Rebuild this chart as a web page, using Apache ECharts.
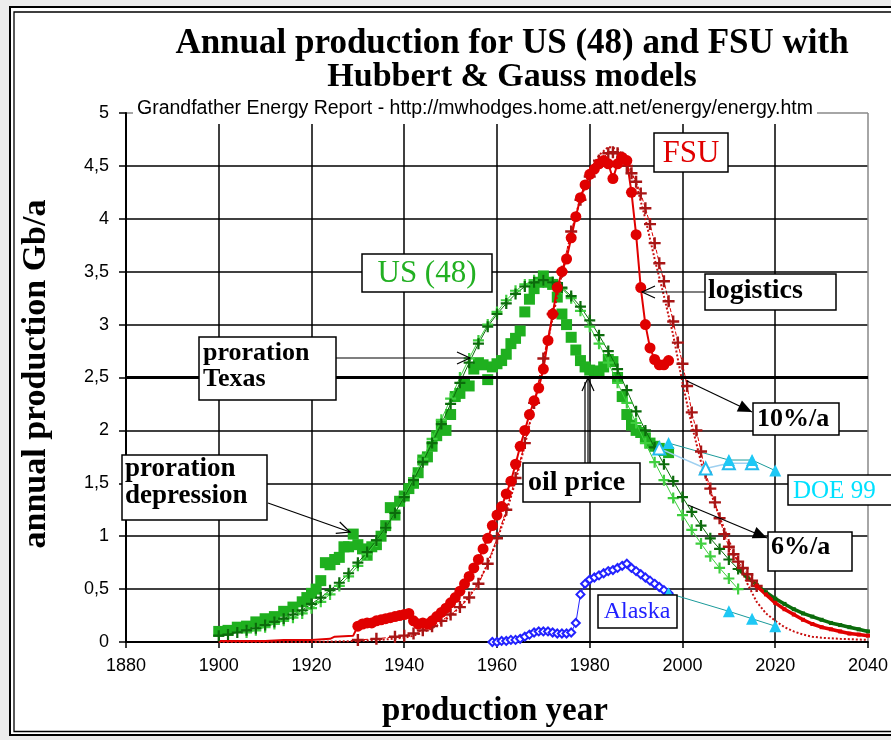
<!DOCTYPE html>
<html><head><meta charset="utf-8">
<script src="https://cdn.jsdelivr.net/npm/echarts@6/dist/echarts.min.js"></script>
<style>html,body{margin:0;padding:0;background:#ececec;}#c{width:891px;height:740px;}</style>
</head><body><div id="c"></div>
<script>
// ---------- data ----------
const yTickLabels = ['0','0,5','1','1,5','2','2,5','3','3,5','4','4,5','5'];
const xTickLabels = ['1880','1900','1920','1940','1960','1980','2000','2020','2040'];

const usYears = [1900,1902,1904,1906,1908,1910,1912,1914,1916,1918,
  1919,1920,1921,1922,1923,1924,1925,1926,1927,1928,1929,1930,1931,1932,1933,1934,1935,1936,1937,1938,1939,
  1940,1941,1942,1943,1944,1945,1946,1947,1948,1949,1950,1951,1952,1953,1954,1955,1956,1957,1958,1959,
  1960,1961,1962,1963,1964,1965,1966,1967,1968,1969,1970,1971,1972,1973,1974,1975,1976,1977,1978,1979,
  1980,1981,1982,1983,1984,1985,1986,1987,1988,1989,1990,1991,1992,1993,1994,1995,1996,1997];
const usProd = [0.10,0.11,0.14,0.15,0.19,0.22,0.24,0.29,0.33,0.38,
  0.42,0.46,0.50,0.58,0.75,0.73,0.78,0.80,0.90,0.90,1.02,0.92,0.88,0.82,0.90,0.92,1.00,1.10,1.27,1.20,1.33,
  1.38,1.45,1.50,1.60,1.72,1.75,1.85,1.95,2.05,2.00,2.15,2.32,2.35,2.45,2.42,2.58,2.64,2.62,2.48,2.60,
  2.63,2.66,2.72,2.82,2.87,2.94,3.12,3.24,3.34,3.40,3.46,3.40,3.38,3.26,3.10,3.00,2.88,2.76,2.66,2.60,
  2.57,2.56,2.56,2.60,2.67,2.65,2.50,2.32,2.15,2.05,2.00,1.98,1.93,1.88,1.85,1.83,1.81,1.79];

const usHubYears = [1900,1902,1904,1906,1908,1910,1912,1914,1916,1918,1920,1922,1924,1926,1928,1930,1932,1934,1936,1938,
  1940,1942,1944,1946,1948,1950,1952,1954,1956,1958,1960,1962,1964,1966,1968,1970,1972,1974,1976,1978,
  1980,1982,1984,1986,1988,1990,1992,1994,1996,1998,2000,2002,2004,2006,2008,2010,2012,2014,2016,2018,
  2020,2022,2024,2026,2028,2030,2032,2034,2036,2038,2040];
const usHubVals = [0.06,0.07,0.09,0.11,0.13,0.16,0.19,0.22,0.26,0.30,0.36,0.42,0.49,0.56,0.65,0.75,0.85,0.96,1.08,1.22,
  1.37,1.53,1.70,1.88,2.06,2.25,2.45,2.64,2.82,2.98,3.10,3.20,3.29,3.36,3.40,3.42,3.40,3.35,3.27,3.17,
  3.04,2.90,2.75,2.58,2.38,2.18,2.00,1.84,1.68,1.52,1.37,1.23,1.10,0.98,0.88,0.78,0.69,0.61,0.54,0.47,
  0.41,0.36,0.31,0.27,0.24,0.21,0.18,0.16,0.14,0.12,0.10];

const usGaussYears = [1906,1908,1910,1912,1914,1916,1918,1920,1922,1924,1926,1928,1930,1932,1934,1936,1938,
  1940,1942,1944,1946,1948,1950,1952,1954,1956,1958,1960,1962,1964,1966,1968,1970,1972,1974,1976,1978,
  1980,1982,1984,1986,1988,1990,1992,1994,1996,1998,2000,2002,2004,2006,2008,2010,2012];
const usGaussVals = [0.09,0.11,0.14,0.17,0.20,0.23,0.27,0.32,0.38,0.45,0.53,0.62,0.72,0.83,0.95,1.08,1.22,
  1.38,1.55,1.73,1.92,2.10,2.30,2.50,2.68,2.85,3.00,3.12,3.23,3.32,3.38,3.42,3.42,3.40,3.34,3.25,3.13,
  2.98,2.82,2.64,2.45,2.26,2.07,1.88,1.70,1.53,1.36,1.20,1.06,0.93,0.81,0.70,0.60,0.50];

const fsuYears = [1900,1905,1910,1914,1920,1924,1925,1929,
  1930,1931,1932,1933,1934,1935,1936,1937,1938,1939,1940,1941,1942,1943,1944,1945,1946,1947,1948,1949,
  1950,1951,1952,1953,1954,1955,1956,1957,1958,1959,1960,1961,1962,1963,1964,1965,1966,1967,1968,1969,
  1970,1971,1972,1973,1974,1975,1976,1977,1978,1979,1980,1981,1982,1983,1984,1985,1986,1987,1988,1989,
  1990,1991,1992,1993,1994,1995,1996,1997];
const fsuProd = [0.01,0.01,0.01,0.02,0.02,0.03,0.05,0.06,
  0.15,0.17,0.18,0.18,0.20,0.21,0.22,0.23,0.24,0.25,0.26,0.27,0.20,0.17,0.18,0.17,0.20,0.24,0.28,0.32,
  0.37,0.42,0.48,0.55,0.62,0.70,0.78,0.88,0.98,1.10,1.20,1.28,1.40,1.52,1.68,1.85,2.00,2.15,2.28,2.40,
  2.58,2.85,3.10,3.35,3.50,3.62,3.82,4.02,4.20,4.32,4.42,4.47,4.52,4.55,4.52,4.38,4.52,4.58,4.55,4.25,
  3.85,3.35,3.00,2.78,2.67,2.62,2.62,2.66];

const fsuHubYears = [1930,1934,1938,1940,1942,1944,1946,1948,1950,1952,1954,1956,1958,1960,1962,1964,1966,1968,
  1970,1972,1974,1976,1978,1980,1982,1984,1985,1986,1987,1988,1989,1990,1991,1992,1993,1994,1995,1996,1997,
  1998,1999,2000,2001,2002,2003,2004,2005,2006,2007,2008,2009,2010,2011,2012,2013,2014,2015,2016,
  2018,2020,2022,2024,2026,2028,2030,2032,2034,2036,2038,2040];
const fsuHubVals = [0.02,0.03,0.05,0.06,0.08,0.11,0.15,0.20,0.26,0.33,0.42,0.55,0.74,0.98,1.25,1.55,1.88,2.26,
  2.68,3.10,3.50,3.88,4.18,4.40,4.55,4.62,4.63,4.62,4.58,4.50,4.43,4.35,4.24,4.10,3.95,3.77,3.58,3.41,3.22,
  3.03,2.83,2.63,2.42,2.17,2.00,1.80,1.60,1.45,1.32,1.17,1.02,0.90,0.83,0.76,0.70,0.64,0.58,0.53,
  0.45,0.37,0.31,0.26,0.21,0.17,0.14,0.12,0.10,0.08,0.07,0.06];

const fsuGaussYears = [1900,1920,1930,1935,1940,1942,1944,1946,1948,1950,1952,1954,1956,1958,1960,1962,1964,1966,1968,
  1970,1972,1974,1976,1978,1980,1982,1984,1986,1988,1990,1992,1994,1996,1998,2000,2002,2004,2006,2008,
  2010,2012,2014,2016,2018,2020,2022,2024,2026,2028,2030,2034,2040];
const fsuGaussVals = [0.00,0.00,0.01,0.02,0.04,0.06,0.09,0.13,0.18,0.25,0.33,0.43,0.56,0.74,0.96,1.22,1.52,1.86,2.24,
  2.65,3.06,3.48,3.86,4.20,4.45,4.60,4.68,4.66,4.55,4.33,4.00,3.62,3.27,2.90,2.45,2.05,1.70,1.42,1.18,
  0.96,0.75,0.55,0.38,0.27,0.20,0.14,0.10,0.07,0.05,0.04,0.03,0.02];

const alaskaYears = [1959,1960,1961,1962,1963,1964,1965,1966,1967,1968,1969,1970,1971,1972,1973,1974,1975,1976,1977,1978,
  1979,1980,1981,1982,1983,1984,1985,1986,1987,1988,1989,1990,1991,1992,1993,1994,1995,1996,1997];
const alaskaProd = [0.00,0.00,0.01,0.01,0.02,0.02,0.03,0.05,0.07,0.09,0.10,0.10,0.10,0.09,0.08,0.08,0.08,0.09,0.18,0.45,
  0.55,0.59,0.61,0.63,0.65,0.67,0.68,0.70,0.72,0.74,0.70,0.67,0.64,0.61,0.58,0.55,0.52,0.49,0.46];

const alaskaDoeYears = [1997,2010,2015,2020];
const alaskaDoeVals  = [0.46,0.29,0.22,0.15];
const usDoeYears = [1997,2010,2015,2020];
const usDoeVals  = [1.88,1.72,1.72,1.62];
const usDoe2Years = [1995,2005,2010,2015];
const usDoe2Vals  = [1.83,1.64,1.69,1.69];

// ---------- chart ----------
const pair = (xs, ys) => xs.map((x, i) => [x, ys[i]]);
const PLUS = 'path://M4,0H6V4H10V6H6V10H4V6H0V4H4Z';
const serif = '"Liberation Serif","Times New Roman",serif';
const sans = '"Liberation Sans",Arial,sans-serif';

const usHub = pair(usHubYears, usHubVals);
const fsuHub = pair(fsuHubYears, fsuHubVals);

function box(x, y, w, h) {
  return {type:'rect', shape:{x, y, width:w, height:h}, style:{fill:'#fff', stroke:'#000', lineWidth:1.5}, z:100};
}
function txt(x, y, text, font, fill, align, va, lh) {
  return {type:'text', x, y, style:{text, font, fill, align, verticalAlign:va, lineHeight:lh}, z:101};
}
function arrow(x1, y1, x2, y2, filled) {
  const a = Math.atan2(y2 - y1, x2 - x1), len = filled ? 14 : 13, half = 6;
  const bx = x2 - len * Math.cos(a), by = y2 - len * Math.sin(a);
  const p1 = [bx + half * Math.sin(a), by - half * Math.cos(a)];
  const p2 = [bx - half * Math.sin(a), by + half * Math.cos(a)];
  const out = [{type:'line', shape:{x1, y1, x2, y2}, style:{stroke:'#000', lineWidth:1.2}, z:99}];
  if (filled) out.push({type:'polygon', shape:{points:[p1, [x2, y2], p2]}, style:{fill:'#000'}, z:99});
  else out.push({type:'polyline', shape:{points:[p1, [x2, y2], p2]}, style:{stroke:'#000', lineWidth:1.2, fill:null}, z:99});
  return out;
}

const graphics = [
  {type:'rect', shape:{x:10, y:7, width:900, height:728}, style:{fill:'#fff', stroke:'#000', lineWidth:2}, z:-10},
  {type:'rect', shape:{x:14, y:12, width:900, height:719.5}, style:{fill:null, stroke:'#000', lineWidth:1.3}, z:-9},
  txt(512, 44, 'Annual production for US (48) and FSU with', 'bold 35px ' + serif, '#000', 'center', 'middle'),
  txt(512, 77, 'Hubbert & Gauss models', 'bold 34px ' + serif, '#000', 'center', 'middle'),
  {type:'text', x:36, y:374, rotation:Math.PI / 2, style:{text:'annual production Gb/a', font:'bold 34px ' + serif, fill:'#000', align:'center', verticalAlign:'middle'}, z:50},
  txt(495, 711, 'production year', 'bold 33px ' + serif, '#000', 'center', 'middle'),
  // annotation boxes
  box(362, 254, 130, 38), txt(427, 274, 'US (48)', '31px ' + serif, '#22b022', 'center', 'middle'),
  box(654, 133, 74, 39), txt(691, 154, 'FSU', '31px ' + serif, '#e00000', 'center', 'middle'),
  box(705, 274, 131, 36), txt(708, 291, 'logistics', 'bold 28px ' + serif, '#000', 'left', 'middle'),
  box(199, 337, 137, 63), txt(203, 340, 'proration\nTexas', 'bold 26px ' + serif, '#000', 'left', 'top', 26),
  box(122, 455, 145, 65), txt(125, 456, 'proration\ndepression', 'bold 27px ' + serif, '#000', 'left', 'top', 27),
  box(523, 463, 117, 39), txt(528, 483, 'oil price', 'bold 28px ' + serif, '#000', 'left', 'middle'),
  box(753, 403, 86, 32), txt(757, 419, '10%/a', 'bold 26px ' + serif, '#000', 'left', 'middle'),
  box(768, 532, 84, 39), txt(771, 547, '6%/a', 'bold 26px ' + serif, '#000', 'left', 'middle'),
  box(788, 475, 110, 30), txt(793, 491, 'DOE 99', '25px ' + serif, '#00e0ff', 'left', 'middle'),
  box(598, 595, 79, 33), txt(637, 612, 'Alaska', '24px ' + serif, '#2020ff', 'center', 'middle'),
  ...arrow(336, 358, 470, 358, false),
  ...arrow(268, 503, 350, 532, false),
  ...arrow(705, 292, 642, 292, false),
  ...arrow(588, 463, 588, 378, false),
  {type:'line', shape:{x1:585, y1:463, x2:585, y2:382}, style:{stroke:'#000', lineWidth:1.2}, z:99},
  ...arrow(687, 381, 752, 412, true),
  ...arrow(688, 505, 767, 538, true)
];

const chart = echarts.init(document.getElementById('c'));
chart.setOption({
  animation: false,
  backgroundColor: 'transparent',
  title: [{
    text: 'Grandfather Energy Report - http://mwhodges.home.att.net/energy/energy.htm',
    left: 133, top: 96, padding: [3, 4, 5, 4], backgroundColor: '#fff',
    textStyle: {fontSize: 19.5, fontWeight: 'normal', fontFamily: sans, color: '#000', lineHeight: 20}
  }],
  grid: {left: 126, right: 23, top: 113, bottom: 98, show: false},
  xAxis: {
    type: 'value', min: 1880, max: 2040, interval: 20,
    axisLine: {show: true, onZero: false, lineStyle: {color: '#000', width: 2}},
    axisTick: {show: true, length: 6, lineStyle: {color: '#000', width: 1.5}},
    axisLabel: {fontSize: 18, fontFamily: sans, color: '#000', margin: 15,
      formatter: v => xTickLabels[Math.round((v - 1880) / 20)]},
    splitLine: {show: true, lineStyle: {width: 1.5,
      color: ['#000','#000','#000','#000','#000','#000','#000','#000','#888']}}
  },
  yAxis: {
    type: 'value', min: 0, max: 5, interval: 0.5,
    axisLine: {show: true, lineStyle: {color: '#000', width: 2}},
    axisTick: {show: true, length: 7, lineStyle: {color: '#000', width: 1.5}},
    axisLabel: {fontSize: 18, fontFamily: sans, color: '#000', margin: 17,
      formatter: v => yTickLabels[Math.round(v * 2)]},
    splitLine: {show: true, lineStyle: {width: 1.5,
      color: ['#000','#000','#000','#000','#000','#000','#000','#000','#000','#000','#888']}}
  },
  series: [
    {name: 'FSU Gauss', type: 'line', data: pair(fsuGaussYears, fsuGaussVals), symbol: 'none',
      lineStyle: {color: '#c81010', width: 2, type: 'dotted'},
      markLine: {silent: true, symbol: 'none', label: {show: false},
        lineStyle: {color: '#000', width: 3, type: 'solid'}, data: [{yAxis: 2.5}]}},
    {name: 'US Gauss', type: 'line', data: pair(usGaussYears, usGaussVals), symbol: PLUS, symbolSize: 11,
      itemStyle: {color: '#3fcf3f'}, lineStyle: {color: '#3fcf3f', width: 1}},
    {name: 'US Hubbert', type: 'line', data: usHub.filter(d => d[0] <= 2012), symbol: PLUS, symbolSize: 11,
      itemStyle: {color: '#0b6b0b'}, lineStyle: {color: '#0b6b0b', width: 1}},
    {name: 'US Hubbert tail', type: 'line', data: usHub.filter(d => d[0] >= 2012), symbol: 'rect', symbolSize: 4,
      itemStyle: {color: '#0b6b0b'}, lineStyle: {color: '#0b6b0b', width: 3.5}},
    {name: 'FSU Hubbert', type: 'line', data: fsuHub.filter(d => d[0] <= 2016), symbol: PLUS, symbolSize: 12,
      itemStyle: {color: '#a81515'}, lineStyle: {color: '#e00000', width: 1, type: 'dashed'}},
    {name: 'FSU Hubbert tail', type: 'line', data: fsuHub.filter(d => d[0] >= 2016), symbol: 'rect', symbolSize: 4,
      itemStyle: {color: '#e00000'}, lineStyle: {color: '#e00000', width: 3.5}},
    {name: 'US (48)', type: 'scatter', data: pair(usYears, usProd), symbol: 'rect', symbolSize: 11,
      itemStyle: {color: '#1fb01f', opacity: 1}},
    {name: 'FSU', type: 'line', data: pair(fsuYears, fsuProd), symbol: 'circle',
      symbolSize: v => (v[0] < 1930 ? 0 : 11),
      itemStyle: {color: '#e00000'}, lineStyle: {color: '#e00000', width: 2}},
    {name: 'Alaska', type: 'line', data: pair(alaskaYears, alaskaProd), symbol: 'emptyDiamond', symbolSize: 8,
      itemStyle: {color: '#2222ff'}, lineStyle: {color: '#2222ff', width: 1}},
    {name: 'Alaska DOE 99', type: 'line', data: pair(alaskaDoeYears, alaskaDoeVals), symbol: 'triangle', symbolSize: 12,
      itemStyle: {color: '#1ec8f5'}, lineStyle: {color: '#1a9a9a', width: 1}},
    {name: 'US DOE 99 low', type: 'line', data: pair(usDoe2Years, usDoe2Vals), symbol: 'emptyTriangle', symbolSize: 12,
      itemStyle: {color: '#22bbee'}, lineStyle: {color: '#9fd0f0', width: 1.5}},
    {name: 'US DOE 99', type: 'line', data: pair(usDoeYears, usDoeVals), symbol: 'triangle', symbolSize: 12,
      itemStyle: {color: '#1ec8f5'}, lineStyle: {color: '#1a9a9a', width: 1}}
  ],
  graphic: graphics
});
</script></body></html>
